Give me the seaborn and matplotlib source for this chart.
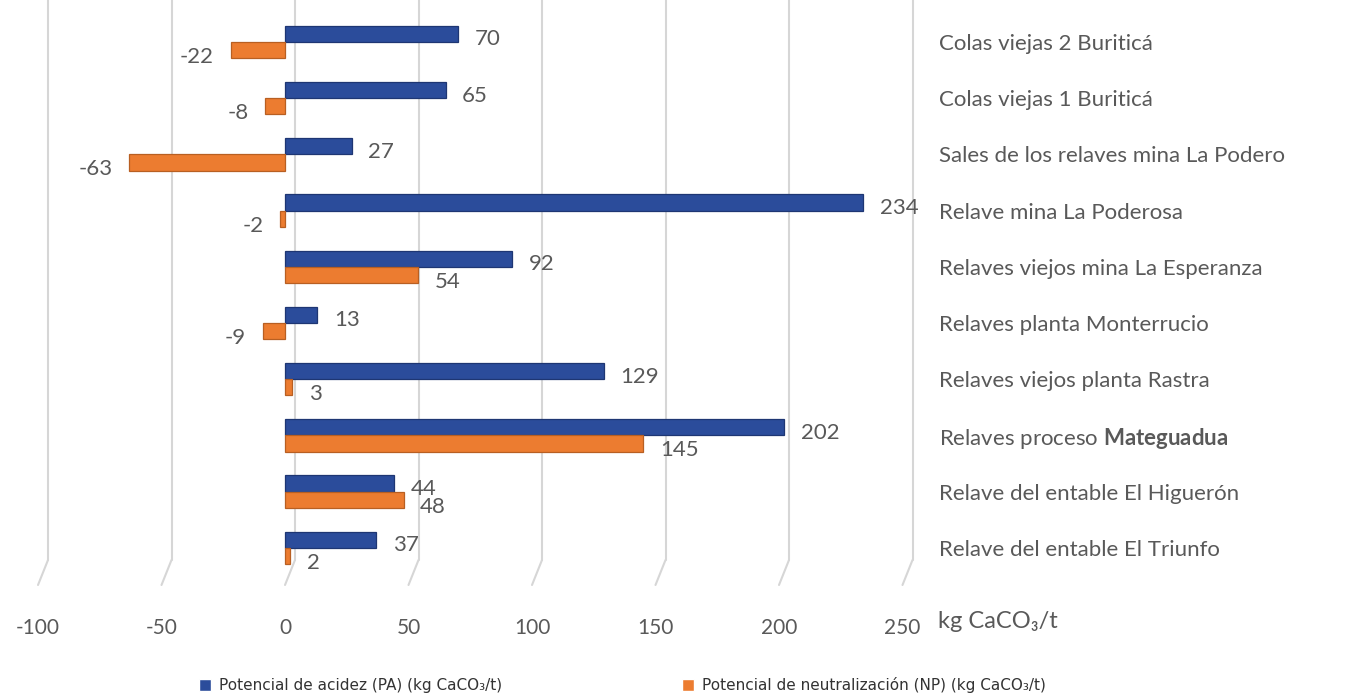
import numpy as np
import matplotlib

matplotlib.use('Agg')
import matplotlib.pyplot as plt
import matplotlib.transforms as mtransforms
import pandas as pd
import seaborn as sns

categories = [
    'Colas viejas 2 Buriticá',
    'Colas viejas 1 Buriticá',
    'Sales de los relaves mina La Podero',
    'Relave mina La Poderosa',
    'Relaves viejos mina La Esperanza',
    'Relaves planta Monterrucio',
    'Relaves viejos planta Rastra',
    'Relaves proceso $\\mathbf{Mateguadua}$',
    'Relave del entable El Higuerón',
    'Relave del entable El Triunfo',
]
pa_values = [70, 65, 27, 234, 92, 13, 129, 202, 44, 37]
np_values = [-22, -8, -63, -2, 54, -9, 3, 145, 48, 2]
series_names = ['Potencial de acidez (PA) (kg CaCO₃/t)',
                'Potencial de neutralización (NP) (kg CaCO₃/t)']
x_ticks = [-100, -50, 0, 50, 100, 150, 200, 250]

BLUE = '#2B4C9B'
ORANGE = '#EC7C30'
GRID = '#D6D6D6'
TXT = '#595959'

df = pd.DataFrame({
    'muestra': categories * 2,
    'valor': pa_values + np_values,
    'serie': [series_names[0]] * len(categories) + [series_names[1]] * len(categories),
})

sns.set_style('white')
plt.rcParams['font.family'] = ['Lato', 'DejaVu Sans']
plt.rcParams['mathtext.fontset'] = 'custom'
plt.rcParams['mathtext.rm'] = 'Lato'
plt.rcParams['mathtext.bf'] = 'Lato:bold'

fig = plt.figure(figsize=(13.56, 6.98), dpi=100)
W, H = 1356, 698
ax_left, ax_right, ax_top, ax_bot = 38, 902.5, 0, 585
ax = fig.add_axes([ax_left / W, 1 - ax_bot / H, (ax_right - ax_left) / W, (ax_bot - ax_top) / H])

sns.barplot(data=df, y='muestra', x='valor', hue='serie', order=categories,
            hue_order=series_names, palette=[BLUE, ORANGE], orient='h',
            width=0.58, saturation=1, ax=ax, zorder=3)

for p, ec in zip(ax.patches[:20], ['#1E3673'] * 10 + ['#B85F22'] * 10):
    p.set_edgecolor(ec)
    p.set_linewidth(0.9)

ax.set_xlim(-100, 250)
row_px = 56.2
ax.set_ylim((ax_bot - 42) / row_px, -42 / row_px)
for s in ax.spines.values():
    s.set_visible(False)

# slanted gridlines (3D look)
blend = mtransforms.blended_transform_factory(ax.transData, ax.transAxes)
back = blend + mtransforms.ScaledTranslation(10 / 100, 0, fig.dpi_scale_trans)
y_knee = (ax_bot - 560) / (ax_bot - ax_top)
for t in x_ticks:
    ax.plot([t, t], [y_knee, 1], color=GRID, lw=1.5, transform=back, zorder=1, clip_on=False)
    x0 = ax.transData.transform((t, 0))[0] + 10
    x1 = ax.transData.transform((t, 0))[0]
    y0 = fig.transFigure.transform((0, 1 - 560 / H))[1]
    y1 = fig.transFigure.transform((0, 1 - 585 / H))[1]
    ax.plot([x0, x1], [y0, y1], color=GRID, lw=1.5, transform=None, zorder=1, clip_on=False)

ax.set_xticks(x_ticks)
ax.set_xticklabels([str(t) for t in x_ticks], fontsize=15, color=TXT)
ax.tick_params(axis='x', length=0, pad=24)
ax.yaxis.tick_right()
ax.tick_params(axis='y', length=0, pad=26, labelsize=16, labelcolor=TXT)
ax.set_xlabel('')
ax.set_ylabel('')

# value labels
for i, (pa, nv) in enumerate(zip(pa_values, np_values)):
    ax.annotate(str(pa), (pa, i - 0.145), xytext=(12, -4), textcoords='offset points',
                ha='left', va='center', fontsize=16, color=TXT, zorder=4)
    if nv < 0:
        ax.annotate(str(nv), (nv, i + 0.145), xytext=(-12, -5), textcoords='offset points',
                    ha='right', va='center', fontsize=16, color=TXT, zorder=4)
    else:
        ax.annotate(str(nv), (nv, i + 0.145), xytext=(12, -5), textcoords='offset points',
                    ha='left', va='center', fontsize=16, color=TXT, zorder=4)

fig.text(938 / W, 1 - 621 / H, 'kg CaCO₃/t', fontsize=17, color=TXT, ha='left', va='center')

sns.move_legend(ax, 'center left', bbox_to_anchor=(185 / W, 1 - 685 / H),
                bbox_transform=fig.transFigure, ncol=2, frameon=False, title=None,
                handlelength=0.8, handleheight=0.8, handletextpad=0.5,
                columnspacing=11.8,
                prop={'family': ['DejaVu Sans'], 'size': 11})
for t in ax.get_legend().get_texts():
    t.set_color('#333333')

fig.savefig('out.png', dpi=100)
plt.close(fig)
